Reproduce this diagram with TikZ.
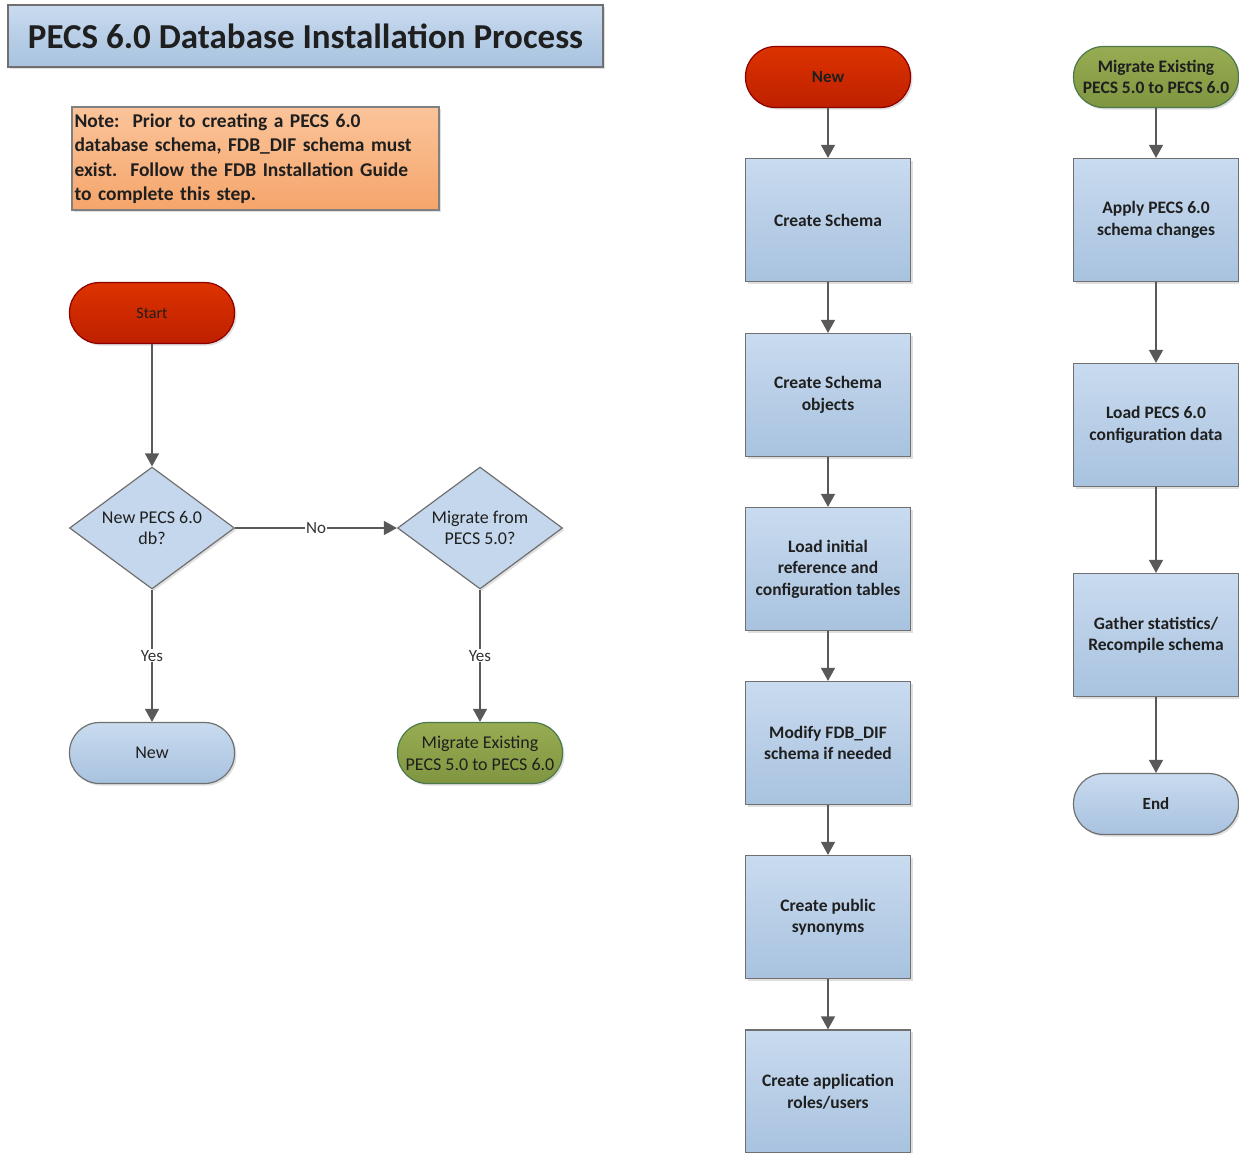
\documentclass[tikz,border=0pt]{standalone}
\usepackage{fontspec}
\setmainfont{Carlito}
\usetikzlibrary{shapes.geometric,arrows.meta,shadows}

\definecolor{bluetop}{HTML}{C9DBEF}
\definecolor{bluebot}{HTML}{A8C2DF}
\definecolor{redtop}{HTML}{DC3300}
\definecolor{redbot}{HTML}{BF2000}
\definecolor{greentop}{HTML}{97AC52}
\definecolor{greenbot}{HTML}{7F9540}
\definecolor{orangetop}{HTML}{FBC49A}
\definecolor{orangebot}{HTML}{F5A56B}
\definecolor{linegray}{HTML}{595959}
\definecolor{edgegray}{HTML}{707070}

\tikzset{
  base/.style={draw=edgegray, line width=1.2pt, align=center, text=black!88,
    drop shadow={opacity=0.25, shadow xshift=2pt, shadow yshift=-2pt}},
  stepbox/.style={base, top color=bluetop, bottom color=bluebot,
    minimum width=165pt, minimum height=123pt, inner sep=1pt,
    font=\fontsize{17.5}{21.5}\selectfont\bfseries},
  term/.style={base, rounded corners=30pt, minimum width=165pt,
    minimum height=61pt, inner sep=0pt},
  termred/.style={term, top color=redtop, bottom color=redbot, draw=red!55!black},
  termgreen/.style={term, top color=greentop, bottom color=greenbot, draw=green!25!black!70},
  termblue/.style={term, top color=bluetop, bottom color=bluebot},
  decision/.style={base, diamond, aspect=1.35, inner sep=0pt, fill=bluetop!85!bluebot,
    minimum width=165pt, minimum height=122pt},
  flow/.style={draw=linegray, line width=1.3pt, -{Triangle[width=14pt,length=13pt]}},
  answer/.style={fill=white, inner sep=1pt, font=\fontsize{17}{20}\selectfont, text=black!80},
  leftfont/.style={font=\fontsize{18}{20.5}\selectfont}
}

\begin{document}
\begin{tikzpicture}[x=1pt, y=-1pt]
  \useasboundingbox (0,0) rectangle (1239,1152);

  % title and note
  \node[base, top color=bluetop, bottom color=bluebot, minimum width=595pt, minimum height=62pt,
    font=\fontsize{35}{38}\selectfont\bfseries] (title) at (305.5,36) {PECS 6.0 Database Installation Process};
  \node[base, top color=orangetop, bottom color=orangebot, draw=black!50, minimum width=367pt,
    minimum height=103pt, text width=362pt, align=left, inner sep=2pt,
    font=\fontsize{19.5}{24.5}\selectfont\bfseries] (note) at (255.5,158.5)
    {Note:\ \ Prior to creating a PECS 6.0\\database schema, FDB\_DIF schema must\\exist.\ \ Follow the FDB Installation Guide\\to complete this step.};

  % left chart
  \node[termred, font=\fontsize{16}{20}\selectfont] (start) at (152,313) {Start};
  \node[decision, leftfont] (isnew) at (152,528) {New PECS 6.0\\db?};
  \node[decision, leftfont] (ismig) at (480,528) {Migrate from\\PECS 5.0?};
  \node[termblue, leftfont] (gonew) at (152,753) {New};
  \node[termgreen, font=\fontsize{18}{22}\selectfont] (gomig) at (480,753) {Migrate Existing\\PECS 5.0 to PECS 6.0};

  \draw[flow] (start) -- (isnew);
  \draw[flow] (isnew) -- node[answer] {No} (ismig);
  \draw[flow] (isnew) -- node[answer, pos=0.5] {Yes} (gonew);
  \draw[flow] (ismig) -- node[answer, pos=0.5] {Yes} (gomig);

  % new database column
  \node[termred, font=\fontsize{17}{20}\selectfont\bfseries] (newtop) at (828,77) {New};
  \node[stepbox] (mkschema) at (828,220) {Create Schema};
  \node[stepbox] (mkobjects) at (828,395) {Create Schema\\objects};
  \node[stepbox] (loadref) at (828,569) {Load initial\\reference and\\configuration tables};
  \node[stepbox] (modfdb) at (828,743) {Modify FDB\_DIF\\schema if needed};
  \node[stepbox] (mksyn) at (828,917) {Create public\\synonyms};
  \node[stepbox] (mkroles) at (828,1091.5) {Create application\\roles/users};

  \draw[flow] (newtop) -- (mkschema);
  \draw[flow] (mkschema) -- (mkobjects);
  \draw[flow] (mkobjects) -- (loadref);
  \draw[flow] (loadref) -- (modfdb);
  \draw[flow] (modfdb) -- (mksyn);
  \draw[flow] (mksyn) -- (mkroles);

  % migration column
  \node[termgreen, font=\fontsize{17.5}{21}\selectfont\bfseries] (migtop) at (1156,77) {Migrate Existing\\PECS 5.0 to PECS 6.0};
  \node[stepbox] (apply) at (1156,220) {Apply PECS 6.0\\schema changes};
  \node[stepbox] (loadcfg) at (1156,425) {Load PECS 6.0\\configuration data};
  \node[stepbox] (gather) at (1156,635) {Gather statistics/\\Recompile schema};
  \node[termblue, font=\fontsize{17}{20}\selectfont\bfseries] (finish) at (1156,804) {End};

  \draw[flow] (migtop) -- (apply);
  \draw[flow] (apply) -- (loadcfg);
  \draw[flow] (loadcfg) -- (gather);
  \draw[flow] (gather) -- (finish);
\end{tikzpicture}
\end{document}
